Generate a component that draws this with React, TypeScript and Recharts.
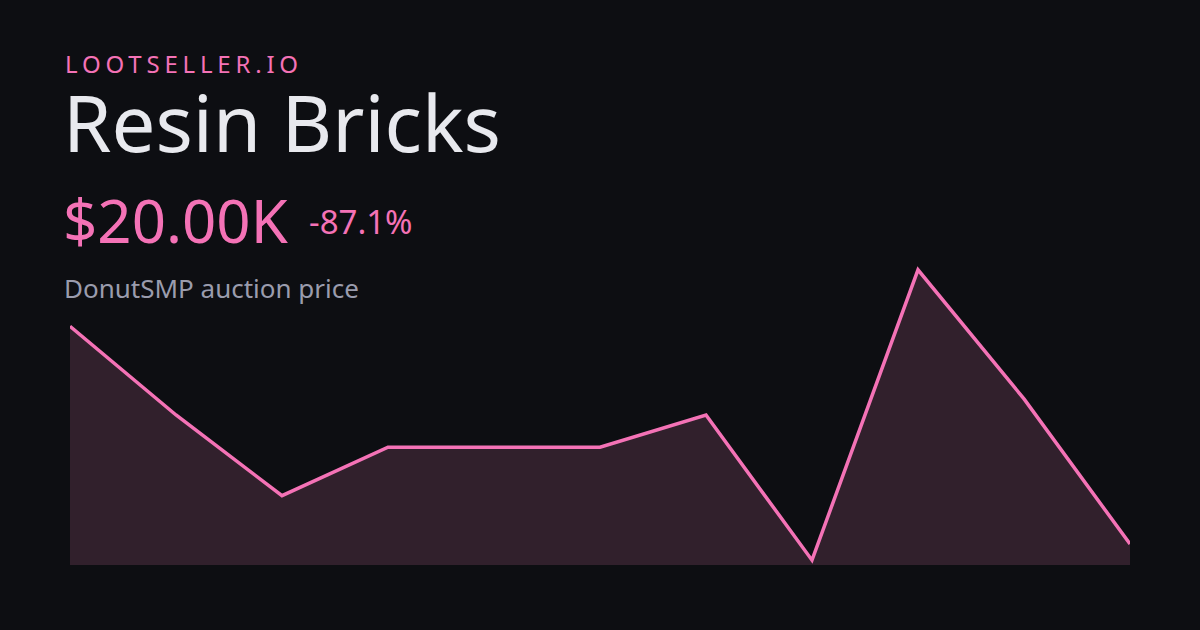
import { AreaChart, Area, XAxis, YAxis } from "recharts";

// price history, oldest first
const days = ["d1", "d2", "d3", "d4", "d5", "d6", "d7", "d8", "d9", "d10", "d11"];
const prices = [155000, 100000, 50000, 80000, 80000, 80000, 100000, 10000, 190000, 110000, 20000];

const brand = "LOOTSELLER.IO";
const itemName = "Resin Bricks";
const priceLabel = "$20.00K";
const changeLabel = "-87.1%";
const caption = "DonutSMP auction price";

const PINK = "#f472b6";
const FONT = "'Noto Sans', 'Open Sans', sans-serif";

const data = days.map((d, i) => ({ day: d, price: prices[i] }));

function textStyle(left: number, baseline: number, size: number, color: string) {
  // lineHeight 1 with Noto Sans: baseline sits ~0.888em below the box top
  return {
    position: "absolute" as const,
    left,
    top: baseline - 0.888 * size,
    fontSize: size,
    lineHeight: 1,
    color,
    fontFamily: FONT,
    whiteSpace: "nowrap" as const,
  };
}

export default function App() {
  return (
    <div
      style={{
        position: "absolute",
        left: 0,
        top: 0,
        width: 1200,
        height: 630,
        background: "#0d0e12",
        overflow: "hidden",
      }}
    >
      <div style={{ ...textStyle(65, 73, 24, PINK), letterSpacing: "0.2em" }}>{brand}</div>
      <div style={textStyle(63, 152, 78, "#e8e9ee")}>{itemName}</div>
      <div style={textStyle(63, 243, 60, PINK)}>{priceLabel}</div>
      <div style={textStyle(309, 234, 33, PINK)}>{changeLabel}</div>
      <div style={textStyle(64, 298, 26, "#9a9cad")}>{caption}</div>

      <div style={{ position: "absolute", left: 70, top: 265 }}>
        <AreaChart width={1060} height={300} data={data} margin={{ top: 0, right: 0, bottom: 0, left: 0 }}>
          <XAxis dataKey="day" hide padding={{ left: 0, right: 0 }} />
          <YAxis hide domain={[7000, 193000]} />
          <Area
            type="linear"
            dataKey="price"
            stroke={PINK}
            strokeWidth={3.5}
            fill="#31202c"
            fillOpacity={1}
            dot={false}
            activeDot={false}
            isAnimationActive={false}
          />
        </AreaChart>
      </div>
    </div>
  );
}
